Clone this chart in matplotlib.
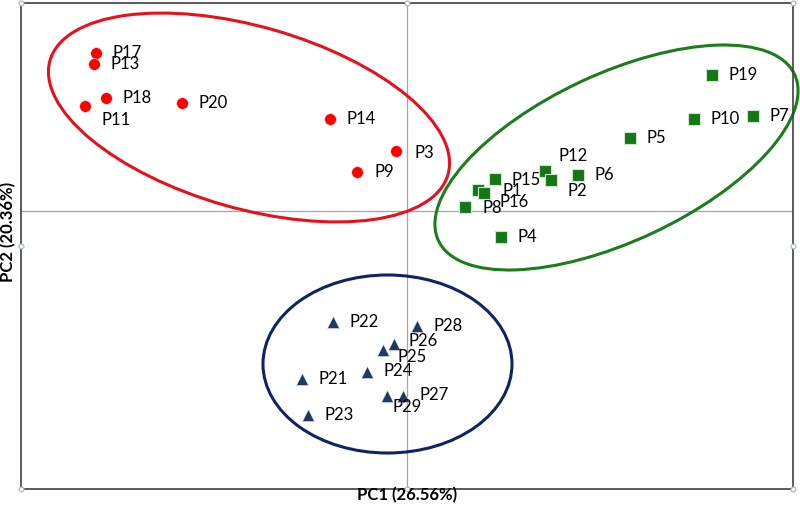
import matplotlib
matplotlib.use("Agg")
import matplotlib.pyplot as plt
from matplotlib.patches import Ellipse

plt.rcParams['font.family'] = ['Lato', 'DejaVu Sans']

# ---- data (PC scores) ----
red_names = ["P17", "P13", "P18", "P11", "P20", "P14", "P3", "P9"]
red_pc1 = [-6.22, -6.26, -6.02, -6.44, -4.50, -1.54, -0.22, -1.00]
red_pc2 = [3.16, 2.94, 2.26, 2.10, 2.16, 1.84, 1.20, 0.78]

green_names = ["P19", "P7", "P10", "P5", "P12", "P2", "P6", "P15", "P1", "P16", "P8", "P4"]
green_pc1 = [6.09, 6.91, 5.74, 4.46, 2.75, 2.87, 3.41, 1.75, 1.41, 1.53, 1.15, 1.87]
green_pc2 = [2.72, 1.89, 1.83, 1.45, 0.79, 0.61, 0.72, 0.63, 0.42, 0.35, 0.07, -0.52]

blue_names = ["P22", "P28", "P26", "P25", "P24", "P21", "P27", "P29", "P23"]
blue_pc1 = [-1.49, 0.19, -0.27, -0.49, -0.81, -2.11, -0.09, -0.41, -1.99]
blue_pc2 = [-2.23, -2.31, -2.65, -2.78, -3.21, -3.35, -3.69, -3.69, -4.07]

# confidence ellipses: (center x, center y, width, height, angle)
red_ellipse = (-3.16, 1.87, 8.28, 3.64, -16)
green_ellipse = (4.19, 1.07, 7.86, 3.35, 25)
blue_ellipse = (-0.39, -3.06, 4.98, 3.56, 0)

xlabel = "PC1 (26.56%)"
ylabel = "PC2 (20.36%)"

# label offsets in pixels (dx right, dy down)
label_offsets = {
    "P11": (17, 14), "P12": (14, -15), "P2": (17, 11), "P1": (25, 1),
    "P16": (16, 9), "P8": (18, 1), "P15": (17, 1), "P26": (15, -2),
    "P25": (15, 7), "P29": (6, 11), "P3": (18, 2),
}

fig = plt.figure(figsize=(8, 5.05), dpi=100)
W, H = 800, 505
ax = fig.add_axes([21 / W, (H - 489) / H, 772 / W, 486 / H])
ax.set_xlim(-7.72, 7.72)
ax.set_ylim(-5.56, 4.16)
ax.set_xticks([])
ax.set_yticks([])
for s in ax.spines.values():
    s.set_color('#404040')
    s.set_linewidth(1.2)

ax.axhline(0, color='#a6a6a6', lw=0.9, zorder=1)
ax.axvline(0, color='#a6a6a6', lw=0.9, zorder=1)

ax.plot(red_pc1, red_pc2, 'o', color='#FF0000', ms=8.4, mec='#ffdddd', mew=0.4, ls='none', zorder=3)
ax.plot(green_pc1, green_pc2, 's', color='#137813', ms=8.6, mec='#cfe3cf', mew=0.8, ls='none', zorder=3)
ax.plot(blue_pc1, blue_pc2, '^', color='#1F3864', ms=8.0, mec='#dde3ee', mew=0.4, ls='none', zorder=3)

for names, xs, ys in [(red_names, red_pc1, red_pc2),
                      (green_names, green_pc1, green_pc2),
                      (blue_names, blue_pc1, blue_pc2)]:
    for n, x, y in zip(names, xs, ys):
        dx, dy = label_offsets.get(n, (17, 0))
        ax.annotate(n, (x, y), xytext=(dx * 0.72, -dy * 0.72), textcoords='offset points',
                    ha='left', va='center', fontsize=12, color='black', zorder=4)

for (cx, cy, w, h, ang), col in [(red_ellipse, '#E8101A'),
                                 (green_ellipse, '#1B7D1B'),
                                 (blue_ellipse, '#0F2464')]:
    ax.add_patch(Ellipse((cx, cy), w, h, angle=ang, fill=False, ec=col, lw=2.2,
                         zorder=2, clip_on=False))

# selection handles on the plot frame
hx = [0, 0.5, 1, 0, 1, 0, 0.5, 1]
hy = [1, 1, 1, 0.5, 0.5, 0, 0, 0]
ax.plot(hx, hy, 'o', transform=ax.transAxes, ms=3.5, mfc='white', mec='#9fb4c8',
        mew=0.8, ls='none', clip_on=False, zorder=5)

fig.text(407 / W, 1 - 495 / H, xlabel, ha='center', va='center', fontsize=12,
         fontweight='bold')
fig.text(8 / W, 1 - 232 / H, ylabel, ha='center', va='center', fontsize=12,
         fontweight='bold', rotation=90)

fig.savefig('out.png', dpi=100)
